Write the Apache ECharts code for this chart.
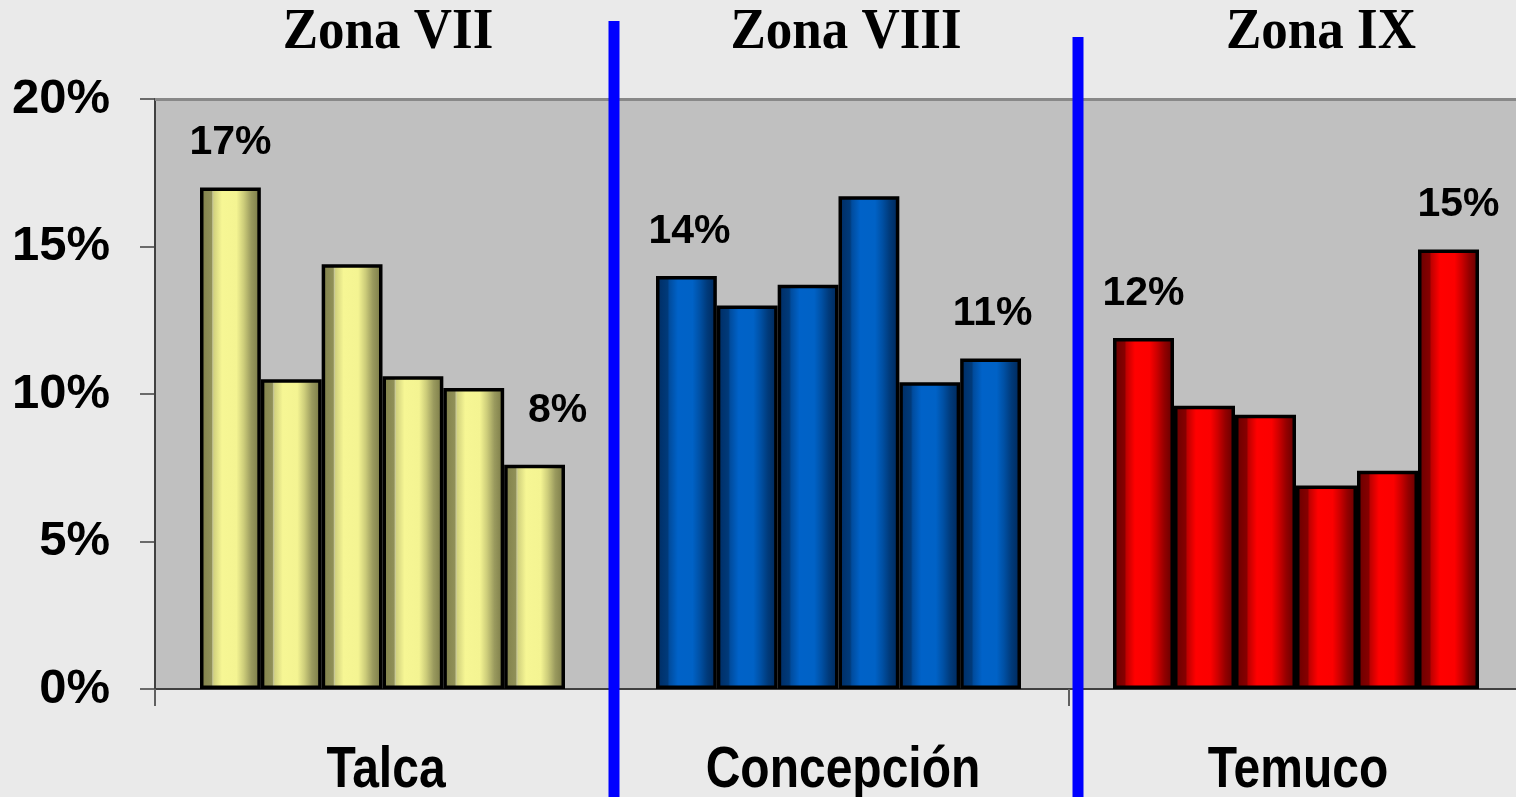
<!DOCTYPE html>
<html>
<head>
<meta charset="utf-8">
<script src="https://cdn.jsdelivr.net/npm/echarts@6/dist/echarts.min.js"></script>
<style>
html,body{margin:0;padding:0;background:#eaeaea;}
#chart{width:1516px;height:797px;}
</style>
</head>
<body>
<div id="chart"></div>
<script>
// ---- data ----
const cities = ['Talca', 'Concepción', 'Temuco'];
const zones = ['Zona VII', 'Zona VIII', 'Zona IX'];
const talca = [17.0, 10.5, 14.4, 10.6, 10.2, 7.6];
const concepcion = [14.0, 13.0, 13.7, 16.7, 10.4, 11.2];
const temuco = [11.9, 9.6, 9.3, 6.9, 7.4, 14.9];
const barSlots = ['1', '2', '3', '4', '5', '6'];
const yMin = 0, yMax = 20, yStep = 5;

// ---- layout / style ----
const plot = { left: 155, top: 99, bottom: 108 };
const groupGrids = [ { left: 200, width: 365 }, { left: 656, width: 365 }, { left: 1113, width: 366 } ];
const titleX = [388, 846, 1321];
const cityX = [386, 843, 1298];
const labelOffsets = [ [[0,0],[23,-10]], [[3,0],[2,0]], [[0,0],[10,0]] ];

function grad(stops) {
  return new echarts.graphic.LinearGradient(0, 0, 1, 0,
    stops.map(s => ({ offset: s[0], color: s[1] })), false);
}
const fillStops = [
  [[0,'#80804a'],[0.19,'#909058'],[0.21,'#c8c898'],[0.23,'#d2d27e'],[0.36,'#f6f694'],[0.6,'#f4f492'],[0.72,'#cccc7a'],[0.84,'#9a9a5e'],[1,'#767644']],
  [[0,'#002c62'],[0.19,'#003a7a'],[0.22,'#004c9e'],[0.36,'#0062c8'],[0.6,'#0062c6'],[0.72,'#0050a4'],[0.84,'#003a7a'],[1,'#002656']],
  [[0,'#680000'],[0.19,'#860000'],[0.22,'#c00000'],[0.36,'#ff0000'],[0.6,'#fc0000'],[0.72,'#cc0000'],[0.84,'#940000'],[1,'#5e0000']]
];
const groups = [talca, concepcion, temuco];

const labelFont = { fontFamily: 'Liberation Sans, Arial', fontWeight: 'bold', fontSize: 41, color: '#000' };

const grids = [{ left: plot.left, right: 0, top: plot.top, bottom: plot.bottom, show: true,
  backgroundColor: '#c0c0c0', borderWidth: 0 }];
const xAxes = [{ gridIndex: 0, type: 'value', min: 0, max: 1, axisLabel: { show: false },
  axisTick: { show: false }, splitLine: { show: false },
  axisLine: { show: true, lineStyle: { color: '#404040', width: 2 } } }];
const yAxes = [{ gridIndex: 0, type: 'value', min: yMin, max: yMax, interval: yStep,
  splitLine: { show: false },
  axisLine: { show: true, lineStyle: { color: '#404040', width: 2 } },
  axisTick: { show: true, length: 15, lineStyle: { color: '#404040', width: 1.5 } },
  axisLabel: { formatter: '{value}%', margin: 45, fontFamily: 'Liberation Sans, Arial',
    fontWeight: 'bold', fontSize: 49, color: '#000' } }];
const series = [];

groups.forEach((vals, g) => {
  const gi = g + 1;
  grids.push({ left: groupGrids[g].left, width: groupGrids[g].width, top: plot.top, bottom: plot.bottom });
  xAxes.push({ gridIndex: gi, type: 'category', data: barSlots, show: false });
  yAxes.push({ gridIndex: gi, type: 'value', min: yMin, max: yMax, show: false });
  series.push({
    type: 'bar', xAxisIndex: gi, yAxisIndex: gi, barCategoryGap: '0%',
    data: vals.map((v, i) => {
      const first = i === 0, last = i === vals.length - 1;
      const item = { value: v,
        itemStyle: { color: grad(fillStops[g]), borderColor: '#000', borderWidth: 3.5 } };
      if (first || last) {
        const off = labelOffsets[g][first ? 0 : 1];
        item.label = Object.assign({ show: true, position: 'top', distance: 24,
          offset: off, formatter: p => Math.round(p.value) + '%' }, labelFont);
      }
      return item;
    }),
    label: { show: false },
    animation: false
  });
});

const graphics = [];
// top border of plot area
graphics.push({ type: 'rect', shape: { x: plot.left, y: 98, width: 1516 - plot.left, height: 3 },
  style: { fill: '#888888' }, z: 5 });
// small ticks under the category axis
[155, 1069].forEach(x => graphics.push({ type: 'line', shape: { x1: x, y1: 689, x2: x, y2: 706 },
  style: { stroke: '#606060', lineWidth: 2 }, z: 5 }));
// blue separators
[[614, 21], [1078, 37]].forEach(p => graphics.push({ type: 'rect',
  shape: { x: p[0] - 5.5, y: p[1], width: 11, height: 797 - p[1] }, style: { fill: '#0000ff' }, z: 20 }));
// zone titles
zones.forEach((t, i) => graphics.push({ type: 'text', x: titleX[i], y: 33, scaleY: 1.08, z: 10,
  style: { text: t, align: 'center', verticalAlign: 'middle', fontFamily: 'Liberation Serif, Times New Roman',
    fontWeight: 'bold', fontSize: 53, fill: '#000' } }));
// city names
cities.forEach((t, i) => graphics.push({ type: 'text', x: cityX[i], y: 771, scaleY: 1.2, z: 10,
  style: { text: t, align: 'center', verticalAlign: 'middle', fontFamily: 'Liberation Sans, Arial',
    fontWeight: 'bold', fontSize: 48, fill: '#000' } }));

const chart = echarts.init(document.getElementById('chart'));
chart.setOption({
  backgroundColor: '#eaeaea',
  animation: false,
  grid: grids, xAxis: xAxes, yAxis: yAxes, series: series, graphic: graphics
});
</script>
</body>
</html>
